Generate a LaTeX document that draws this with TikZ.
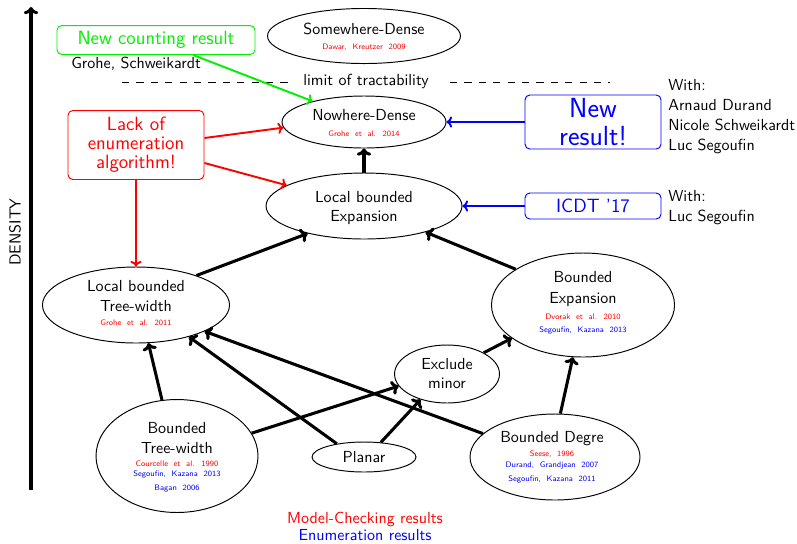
\documentclass[tikz,border=0pt]{standalone}
\usetikzlibrary{shapes.geometric,arrows.meta,calc}
\renewcommand{\familydefault}{\sfdefault}
\definecolor{myred}{RGB}{255,0,0}
\definecolor{mygreen}{RGB}{0,240,0}
\definecolor{myblue}{RGB}{0,0,255}
\tikzset{
  ell/.style={ellipse, draw, line width=0.6pt, inner sep=0pt},
  txt/.style={inner sep=0pt, anchor=base},
  cite/.style={txt, font=\tiny},
  rbox/.style={draw, rounded corners=3pt, line width=0.6pt, align=center, inner sep=1pt},
  conn/.style={line width=1.9pt, -{To[length=4.5pt,width=9pt]}},
  rconn/.style={line width=1.2pt, myred, -{To[length=3.5pt,width=7pt]}},
  gconn/.style={line width=1.2pt, mygreen, -{To[length=3.5pt,width=7pt]}},
  bconn/.style={line width=1.2pt, myblue, -{To[length=3.5pt,width=7pt]}},
  axisline/.style={line width=1.9pt, -{To[length=4.5pt,width=9pt]}},
  dashline/.style={line width=0.6pt, dash pattern=on 4.5pt off 4.5pt}
}
\begin{document}
\begin{tikzpicture}[x=0.625pt,y=-0.625pt]
\useasboundingbox (0,0) rectangle (797,543);

% axis
\coordinate (ax0) at (31,490);
\coordinate (ax1) at (31,7);
\draw[axisline] (ax0) -- (ax1);
\node[rotate=90] (dens) at (15,232) {DENSITY};

% Somewhere dense
\node[ell, minimum width=120.6pt, minimum height=34.4pt] (sd) at (364,36) {};
\node[txt] (sdt) at (364,34) {Somewhere-Dense};
\node[cite, text=myred] (sdc) at (364,49) {Dawar,~ Kreutzer~ 2009};

% limit
\node[txt] (lim) at (366,85) {limit of tractability};
\coordinate (dl1) at (122,82);
\coordinate (dl2) at (292,82);
\coordinate (dr1) at (450,82);
\coordinate (dr2) at (610,82);
\draw[dashline] (dl1) -- (dl2);
\draw[dashline] (dr1) -- (dr2);

% Nowhere dense
\node[ell, minimum width=102.5pt, minimum height=32.5pt] (nd) at (364,122) {};
\node[txt] (ndt) at (364,120) {Nowhere-Dense};
\node[cite, text=myred] (ndc) at (364,136) {Grohe~ et~ al.~ 2014};

% Local bounded expansion
\node[ell, minimum width=122.5pt, minimum height=41.25pt] (lbe) at (364,206) {};
\node[txt] (lbet1) at (364,202) {Local bounded};
\node[txt] (lbet2) at (364,221) {Expansion};

% Local bounded tree-width
\node[ell, minimum width=116.9pt, minimum height=47.5pt] (ltw) at (136,305) {};
\node[txt] (ltwt1) at (136,291) {Local bounded};
\node[txt] (ltwt2) at (136,311) {Tree-width};
\node[cite, text=myred] (ltwc) at (136,325) {Grohe~ et~ al.~ 2011};

% Bounded expansion
\node[ell, minimum width=114.4pt, minimum height=65pt] (be) at (583,305) {};
\node[txt] (bet1) at (583,282) {Bounded};
\node[txt] (bet2) at (583,303) {Expansion};
\node[cite, text=myred] (bec1) at (583,319) {Dvorak~ et~ al.~ 2010};
\node[cite, text=myblue] (bec2) at (583,332) {Segoufin,~ Kazana~ 2013};

% Exclude minor
\node[ell, minimum width=65.6pt, minimum height=36.25pt] (em) at (447,374) {};
\node[txt] (emt1) at (447,369) {Exclude};
\node[txt] (emt2) at (447,388) {minor};

% Planar
\node[ell, minimum width=65pt, minimum height=18.75pt] (pl) at (364,457) {};
\node[txt] (plt) at (364,462) {Planar};

% Bounded tree-width
\node[ell, minimum width=101.25pt, minimum height=70.6pt] (btw) at (177,456) {};
\node[txt] (btwt1) at (177,433) {Bounded};
\node[txt] (btwt2) at (177,453) {Tree-width};
\node[cite, text=myred] (btwc1) at (177,466) {Courcelle~ et~ al.~ 1990};
\node[cite, text=myblue] (btwc2) at (177,476.5) {Segoufin,~ Kazana~ 2013};
\node[cite, text=myblue] (btwc3) at (177,490) {Bagan~ 2006};

% Bounded degree
\node[ell, minimum width=106.25pt, minimum height=53.75pt] (bd) at (555,457) {};
\node[txt] (bdt) at (552,442) {Bounded Degre};
\node[cite, text=myred] (bdc1) at (552,456) {Seese,~ 1996};
\node[cite, text=myblue] (bdc2) at (552,467) {Durand,~ Grandjean~ 2007};
\node[cite, text=myblue] (bdc3) at (552,481) {Segoufin,~ Kazana~ 2011};

% boxes
\node[rbox, draw=mygreen, text=mygreen, font=\large, minimum width=123.75pt, minimum height=18.1pt] (newc) at (156,40) {New counting result};
\node[txt, anchor=base west] (gs) at (71,68) {Grohe, Schweikardt};
\node[rbox, draw=myred, text=myred, font=\large, minimum width=85pt, minimum height=43.1pt] (lack) at (136,145) {Lack of\\[-2pt]enumeration\\[-2pt]algorithm!};
\node[rbox, draw=myblue, text=myblue, font=\LARGE, minimum width=85pt, minimum height=33.75pt] (newr) at (593,122) {New\\[-5pt]result!};
\node[rbox, draw=myblue, text=myblue, font=\large, minimum width=85pt, minimum height=16.25pt] (icdt) at (593,206) {ICDT '17};

% right texts
\node[txt, anchor=base west] (w1) at (668,90) {With:};
\node[txt, anchor=base west] (w2) at (668,110) {Arnaud Durand};
\node[txt, anchor=base west] (w3) at (668,130) {Nicole Schweikardt};
\node[txt, anchor=base west] (w4) at (668,150) {Luc Segoufin};
\node[txt, anchor=base west] (w5) at (668,201) {With:};
\node[txt, anchor=base west] (w6) at (668,221) {Luc Segoufin};

% legend
\node[txt, text=myred] (leg1) at (365,523) {Model-Checking results};
\node[txt, text=myblue] (leg2) at (365,540) {Enumeration results};

% black connectors
\draw[conn] (lbe.north) -- (nd.south);
\draw[conn] (ltw.26) -- (lbe.206);
\draw[conn] (be.152) -- (lbe.-23);
\draw[conn] (btw.105) -- (ltw.-72);
\draw[conn] (btw.17) -- (em.194);
\draw[conn] (pl.154) -- (ltw.-31);
\draw[conn] (pl.41) -- (em.-136);
\draw[conn] (em.30) -- (be.-155);
\draw[conn] (bd.83) -- (be.-101);
\draw[conn] (bd.162) -- (ltw.-21);

% coloured connectors
\draw[rconn] ($(lack.east)+(0,-7)$) -- (nd.184);
\draw[rconn] ($(lack.east)+(0,18)$) -- (lbe.165);
\draw[rconn] (lack.south) -- (ltw.north);
\draw[gconn] ($(newc.south)+(37,0)$) -- (nd.158);
\draw[bconn] (newr.west) -- (nd.east);
\draw[bconn] (icdt.west) -- (lbe.east);
\end{tikzpicture}
\end{document}
